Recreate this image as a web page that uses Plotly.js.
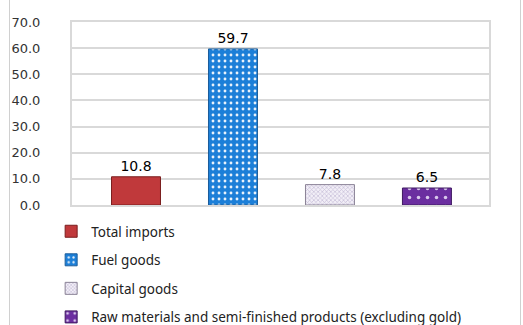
<!DOCTYPE html>
<html>
<head>
<meta charset="utf-8">
<script src="https://cdn.plot.ly/plotly-3.0.1.min.js"></script>
<style>
html,body{margin:0;padding:0;background:#fff;}
#wrap{position:relative;width:523px;height:325px;overflow:hidden;}
#chart{position:absolute;left:0;top:0;width:523px;height:325px;}
.vline{position:absolute;top:0;width:0;height:325px;border-left:1px solid #d0d0d0;}
</style>
</head>
<body>
<div id="wrap">
<div id="chart"></div>
<div class="vline" style="left:9px"></div>
<div class="vline" style="left:520px"></div>
</div>
<script>
const seriesNames = ["Total imports", "Fuel goods", "Capital goods", "Raw materials and semi-finished products (excluding gold)"];
const seriesValues = [10.8, 59.7, 7.8, 6.5];
const yTickValues = [0, 10, 20, 30, 40, 50, 60, 70];
const yTickLabels = ["0.0", "10.0", "20.0", "30.0", "40.0", "50.0", "60.0", "70.0"];

const styles = [
  {color:"#c0393b", line:"#7a1e1e", pattern:null},
  {color:"#1f80d6", line:"#1a5c9a", pattern:{shape:".", fgcolor:"#e8f2fb", bgcolor:"#1c7fd8", size:6, solidity:0.18}},
  {color:"#e8e2f1", line:"#8a8296", pattern:{shape:"x", fgcolor:"#c7bdd8", bgcolor:"#f2eff7", size:3, solidity:0.4}},
  {color:"#6b2ea0", line:"#3f1a60", pattern:{shape:".", fgcolor:"#d9c8ec", bgcolor:"#6b2ea0", size:9, solidity:0.12}}
];

const traces = seriesNames.map((name, i) => {
  const m = {color: styles[i].color, line:{color: styles[i].line, width:1}};
  if (styles[i].pattern) m.pattern = styles[i].pattern;
  return {
    type: "bar",
    name: name,
    x: [i],
    y: [seriesValues[i]],
    width: 0.505,
    marker: m,
    text: [seriesValues[i].toFixed(1)],
    textposition: "outside",
    cliponaxis: false,
    textfont: {family: "DejaVu Sans", size: 14, color: "#000"},
    legendgroup: "g" + i,
    hoverinfo: "skip"
  };
});

const layout = {
  width: 523, height: 325,
  margin: {l: 72, r: 34, t: 22, b: 120, pad: 0, autoexpand: false},
  paper_bgcolor: "#ffffff", plot_bgcolor: "#ffffff",
  showlegend: true,
  barmode: "overlay",
  xaxis: {
    range: [-0.66, 3.64], showticklabels: false, showgrid: false, zeroline: false,
    showline: true, mirror: true, linecolor: "#d9d9d9", linewidth: 2, fixedrange: true
  },
  yaxis: {
    range: [0, 70], tickvals: yTickValues, ticktext: yTickLabels,
    showgrid: true, gridcolor: "#d9d9d9", gridwidth: 2, zeroline: false,
    showline: true, mirror: true, linecolor: "#d9d9d9", linewidth: 2,
    ticklabelstandoff: 27,
    tickfont: {family: "DejaVu Sans", size: 13, color: "#333"}, fixedrange: true
  },
  legend: {
    orientation: "v", x: -0.05, xanchor: "left", y: -0.06, yanchor: "top",
    font: {family: "Noto Sans", size: 13.5, color: "#222"},
    tracegroupgap: 8, bgcolor: "rgba(0,0,0,0)", itemwidth: 30
  }
};

Plotly.newPlot("chart", traces, layout, {staticPlot: true, displayModeBar: false});
</script>
</body>
</html>
